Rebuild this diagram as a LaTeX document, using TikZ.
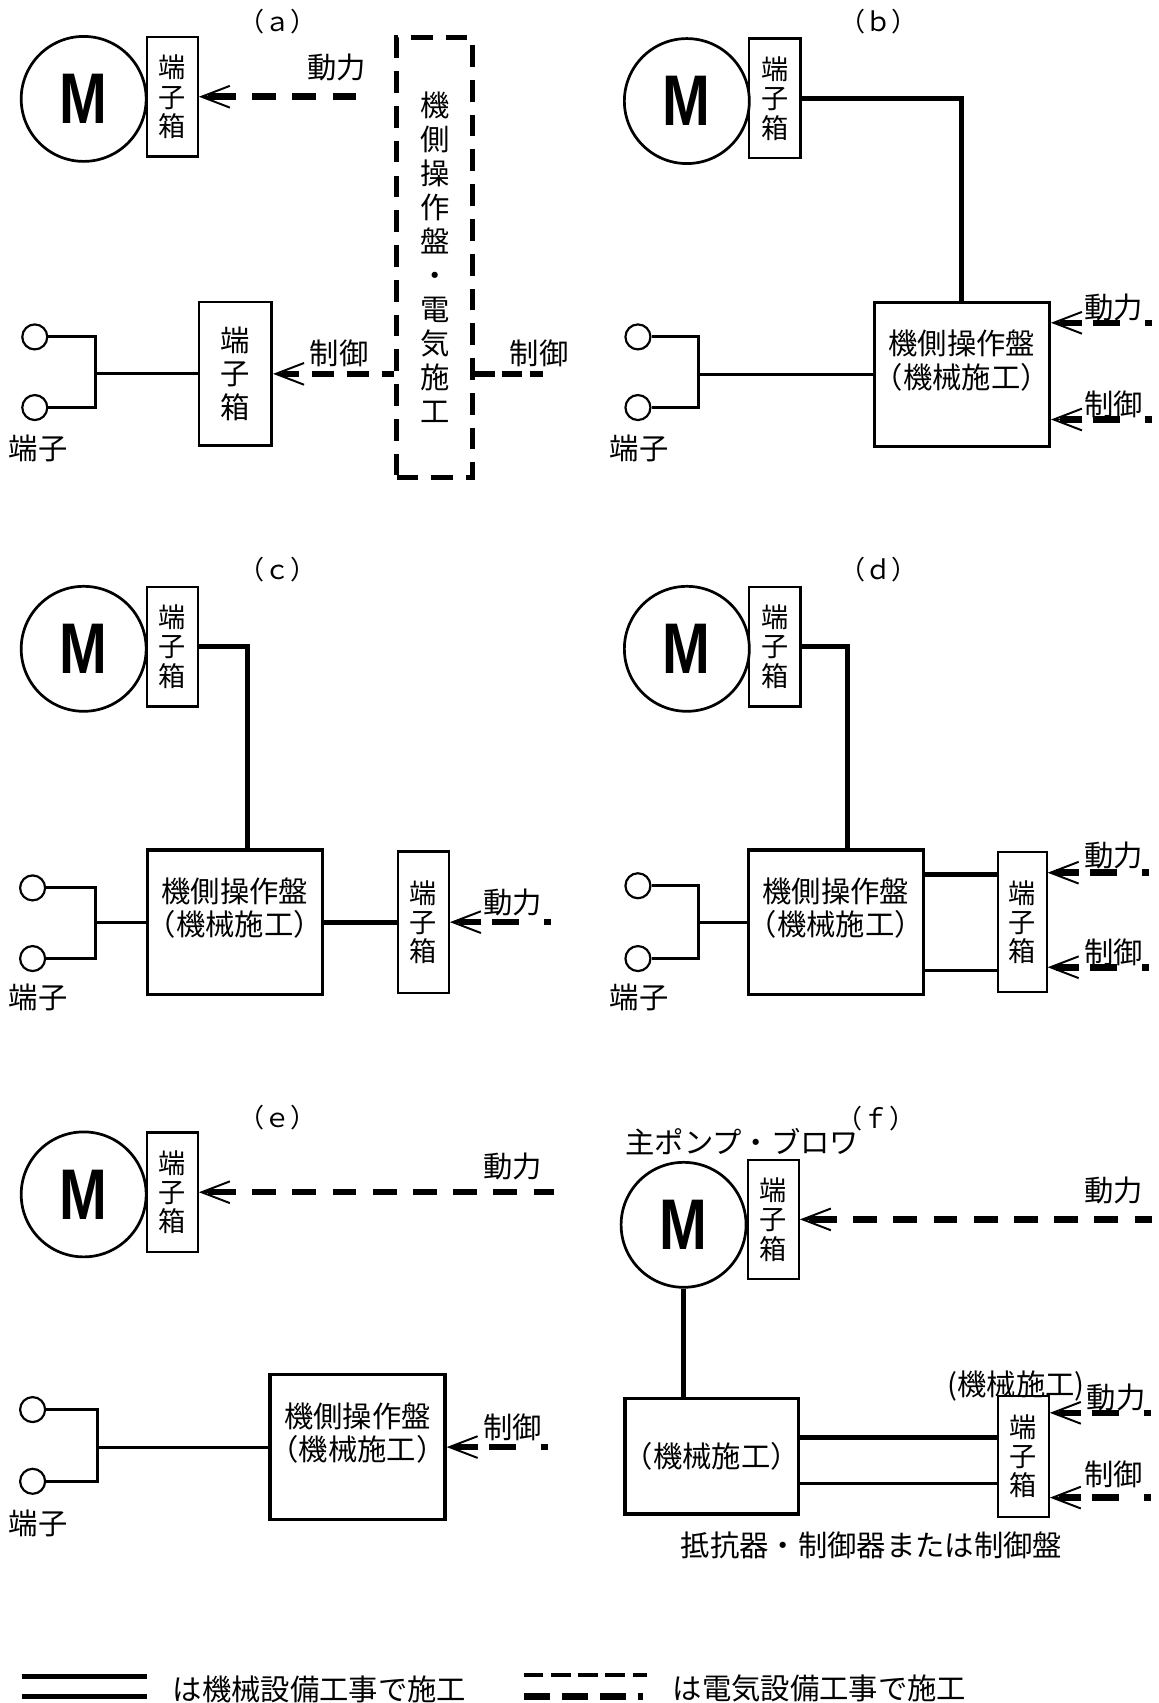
\documentclass[tikz,border=0pt]{standalone}
\usepackage{fontspec}
\newfontfamily\jpfont{Noto Sans CJK JP}
\newfontfamily\mfont{Liberation Sans}
\usetikzlibrary{positioning, arrows.meta, calc}

\newcommand{\motorM}{\mfont\bfseries\fontsize{66pt}{66pt}\selectfont\scalebox{0.8}[1]{M}}

\begin{document}
\begin{tikzpicture}[x=1pt, y=-1pt,
    >={Straight Barb[length=26pt, width=20pt, line width=1.8pt]},
    motor/.style={circle, draw=black, line width=2.5pt, minimum size=115pt, inner sep=0pt},
    tbox/.style={rectangle, draw=black, line width=2pt, minimum width=47pt, minimum height=110pt, inner sep=0pt, align=center, font=\jpfont\fontsize{25pt}{27pt}\selectfont},
    panel/.style={rectangle, draw=black, line width=3pt, minimum width=161pt, minimum height=133pt, inner sep=0pt},
    ptext/.style={align=center, inner sep=0pt, font=\jpfont\fontsize{27pt}{31pt}\selectfont},
    lbl/.style={inner sep=0pt, font=\jpfont\fontsize{27pt}{31pt}\selectfont},
    plbl/.style={inner sep=0pt, font=\jpfont\fontsize{24pt}{28pt}\selectfont},
    term/.style={circle, draw=black, line width=2pt, minimum size=23pt, inner sep=0pt},
    wire/.style={line width=2.7pt},
    mech/.style={line width=4.6pt},
    mechthin/.style={line width=3pt},
    barb/.style={line width=1.8pt, <-},
    elec/.style={line width=6pt, shorten <=8pt, dash pattern=on 26pt off 15pt on 22pt off 15pt on 22pt off 15pt on 22pt off 15pt on 22pt off 15pt on 22pt off 15pt on 22pt off 15pt on 22pt off 15pt on 22pt off 15pt},
    elecshort/.style={line width=6pt, shorten <=8pt, dash pattern=on 21pt off 10pt on 25pt off 23pt on 6pt off 40pt},
    elecmid/.style={line width=5.5pt, shorten <=8pt, dash pattern=on 16pt off 12pt on 20pt off 12pt on 20pt off 12pt on 20pt off 12pt},
    elecfine/.style={line width=5.5pt, dash pattern=on 18pt off 7pt},
    elecbox/.style={draw=black, line width=4.6pt, dash pattern=on 20pt off 12pt, minimum width=70pt, minimum height=405pt, inner sep=0pt, align=center, font=\jpfont\fontsize{27pt}{31.3pt}\selectfont},
]
\useasboundingbox (0,0) rectangle (1066,1567);

% (a)
\node[plbl] (la) at (255,20) {（ａ）};
\node[motor] (ma) at (77,91) {\motorM};
\node[tbox] (tba) at (158.5,89) {端\\子\\箱};
\coordinate (pwa) at (330,89);
\draw[elec] (tba.east) -- (pwa);
\draw[barb] (tba.east) -- ++(24,0);
\node[lbl] (pla) at (310,62) {動力};
\node[elecbox] (ea) at (400,237) {機\\側\\操\\作\\盤\\・\\電\\気\\施\\工};
\node[term] (ta1) at (32,310) {};
\node[term] (ta2) at (32,375) {};
\node[tbox, minimum width=67pt, minimum height=132pt, line width=2.5pt, font=\jpfont\fontsize{27pt}{31pt}\selectfont] (tbal) at (216.5,344) {端\\子\\箱};
\coordinate (ja) at (88,344);
\draw[wire] (ta1.east) -| (ja) |- (ta2.east);
\draw[wire] (ja) -- (tbal.west);
\node[lbl] (lta) at (35,413) {端子};
\draw[elecmid] (tbal.east) -- (tbal.east -| ea.west);
\draw[barb] (tbal.east) -- ++(22,0);
\node[lbl] (cla) at (312,325) {制御};
\coordinate (cra) at (500,344);
\draw[elecfine] (ea.east |- cra) -- (cra);
\node[lbl] (clar) at (496,325) {制御};

% (b)
\node[plbl] (lb) at (808,20) {（ｂ）};
\node[motor] (mb) at (632,93) {\motorM};
\node[tbox] (tbb) at (713,90.5) {端\\子\\箱};
\node[panel] (pb) at (885,344.5) {};
\node[ptext] (pbt) at ($(pb.center)+(0,-13)$) {機側操作盤\\（機械施工）};
\draw[mech] (tbb.east) -| (pb.north);
\coordinate (pwb) at (1060,297);
\coordinate (ctb) at (1060,386);
\draw[elecshort] (pb.east |- pwb) -- (pwb);
\draw[barb] (pb.east |- pwb) -- ++(24,0);
\draw[elecshort] (pb.east |- ctb) -- (ctb);
\draw[barb] (pb.east |- ctb) -- ++(24,0);
\node[lbl] (plb) at (1025,283) {動力};
\node[lbl] (clb) at (1025,372) {制御};
\node[term] (tb1) at (587,310) {};
\node[term] (tb2) at (587,375) {};
\coordinate (jb) at (643,344.5);
\draw[wire] (tb1.east) -| (jb) |- (tb2.east);
\draw[wire] (jb) -- (pb.west);
\node[lbl] (ltb) at (588,413) {端子};

% (c)
\node[plbl] (lc) at (255,524) {（ｃ）};
\node[motor] (mc) at (77,597) {\motorM};
\node[tbox] (tbc) at (158.5,595) {端\\子\\箱};
\node[panel] (pc) at (216,848.5) {};
\node[ptext] (pct) at ($(pc.center)+(0,-13)$) {機側操作盤\\（機械施工）};
\draw[mech] (tbc.east) -| ([xshift=12pt]pc.north);
\node[tbox, minimum height=130pt] (tbc2) at (389.5,848.5) {端\\子\\箱};
\draw[mech] (pc.east) -- (tbc2.west);
\coordinate (pwc) at (510,848.5);
\draw[elecshort] (tbc2.east) -- (pwc);
\draw[barb] (tbc2.east) -- ++(24,0);
\node[lbl] (plc) at (472,830) {動力};
\node[term] (tc1) at (30,817) {};
\node[term] (tc2) at (30,882) {};
\coordinate (jc) at (88,848.5);
\draw[wire] (tc1.east) -| (jc) |- (tc2.east);
\draw[wire] (jc) -- (pc.west);
\node[lbl] (ltc) at (35,918) {端子};

% (d)
\node[plbl] (ld) at (808,524) {（ｄ）};
\node[motor] (md) at (632,597) {\motorM};
\node[tbox] (tbd) at (713,595) {端\\子\\箱};
\node[panel] (pd) at (769,848.5) {};
\node[ptext] (pdt) at ($(pd.center)+(0,-13)$) {機側操作盤\\（機械施工）};
\draw[mech] (tbd.east) -| ([xshift=11pt]pd.north);
\node[tbox, minimum width=45pt, minimum height=129pt] (tbd2) at (940.5,848.5) {端\\子\\箱};
\draw[mech] ([yshift=43.5pt]pd.east) -- ([yshift=43.5pt]tbd2.west);
\draw[mechthin] ([yshift=-44.5pt]pd.east) -- ([yshift=-44.5pt]tbd2.west);
\coordinate (pwd) at (1060,803);
\coordinate (ctd) at (1060,890);
\draw[elecshort] (tbd2.east |- pwd) -- (pwd);
\draw[barb] (tbd2.east |- pwd) -- ++(24,0);
\draw[elecshort] (tbd2.east |- ctd) -- (ctd);
\draw[barb] (tbd2.east |- ctd) -- ++(24,0);
\node[lbl] (pld) at (1025,787) {動力};
\node[lbl] (cld) at (1025,876) {制御};
\node[term] (td1) at (587,815) {};
\node[term] (td2) at (587,882) {};
\coordinate (jd) at (643,848.5);
\draw[wire] (td1.east) -| (jd) |- (td2.east);
\draw[wire] (jd) -- (pd.west);
\node[lbl] (ltd) at (588,918) {端子};

% (e)
\node[plbl] (le) at (255,1028) {（ｅ）};
\node[motor] (me) at (77,1099) {\motorM};
\node[tbox] (tbe) at (158.5,1097) {端\\子\\箱};
\coordinate (pwe) at (510,1097);
\draw[elec] (tbe.east) -- (pwe);
\draw[barb] (tbe.east) -- ++(24,0);
\node[lbl] (ple) at (472,1073) {動力};
\node[panel] (pe) at (329,1331.5) {};
\node[ptext] (pet) at ($(pe.center)+(0,-13)$) {機側操作盤\\（機械施工）};
\coordinate (cte) at (505,1331.5);
\draw[elecshort] (pe.east) -- (cte);
\draw[barb] (pe.east) -- ++(24,0);
\node[lbl] (cle) at (472,1313) {制御};
\node[term] (te1) at (30,1297) {};
\node[term] (te2) at (30,1363) {};
\coordinate (je) at (90,1331.5);
\draw[wire] (te1.east) -| (je) |- (te2.east);
\draw[wire] (je) -- (pe.west);
\node[lbl] (lte) at (35,1402) {端子};

% (f)
\node[plbl] (lf) at (806,1029) {（ｆ）};
\node[lbl] (pump) at (683,1050) {主ポンプ・ブロワ};
\node[motor] (mf) at (629,1127) {\motorM};
\node[tbox] (tbf) at (711.5,1122) {端\\子\\箱};
\coordinate (pwf) at (1060,1122);
\draw[elec] (tbf.east) -- (pwf);
\draw[barb] (tbf.east) -- ++(24,0);
\node[lbl] (plf) at (1025,1095) {動力};
\node[panel, minimum width=160pt, minimum height=106pt] (pf) at (655,1340) {};
\node[ptext] (pft) at (pf.center) {（機械施工）};
\draw[mech] (mf.south) -- (mf.south |- pf.north);
\node[tbox, minimum height=111pt] (tbf2) at (941.5,1340) {端\\子\\箱};
\draw[mech] ([yshift=17pt]pf.east) -- ([yshift=17pt]tbf2.west);
\draw[mechthin] ([yshift=-25pt]pf.east) -- ([yshift=-25pt]tbf2.west);
\node[lbl] (kf) at (935,1275) {(機械施工)};
\coordinate (pwf2) at (1060,1300);
\coordinate (ctf) at (1060,1378);
\draw[elecshort] (tbf2.east |- pwf2) -- (pwf2);
\draw[barb] (tbf2.east |- pwf2) -- ++(24,0);
\draw[elecshort] (tbf2.east |- ctf) -- (ctf);
\draw[barb] (tbf2.east |- ctf) -- ++(24,0);
\node[lbl] (plf2) at (1027,1286) {動力};
\node[lbl] (clf) at (1025,1357) {制御};
\node[lbl] (rf) at (802,1422) {抵抗器・制御器または制御盤};

% legend
\draw[mech] (20,1543) -- (135,1543);
\draw[mech] (20,1561) -- (135,1561);
\node[lbl] (leg1) at (294,1554) {は機械設備工事で施工};
\draw[line width=4pt, dash pattern=on 18pt off 7pt] (482,1541) -- (595,1541);
\draw[line width=6pt, dash pattern=on 24pt off 11pt on 24pt off 11pt on 24pt off 11pt on 5pt off 20pt] (482,1561) -- (595,1561);
\node[lbl] (leg2) at (754,1554) {は電気設備工事で施工};
\end{tikzpicture}
\end{document}
